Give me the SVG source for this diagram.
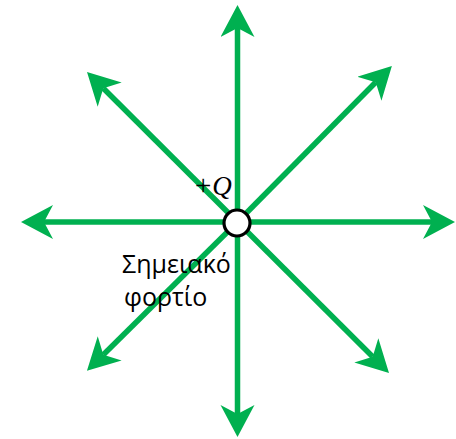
<svg xmlns="http://www.w3.org/2000/svg" width="456" height="439" viewBox="0 0 456 439">
<style>
.fl{stroke:#00B050;stroke-width:5.5;fill:none;marker-end:url(#ah)}
.lbl{font-family:"Open Sans","Noto Sans",sans-serif;font-size:25px;fill:#000}
.q{font-family:"Liberation Serif","DejaVu Serif",serif;font-style:italic;font-size:27px;fill:#000}
.plus{font-style:normal;font-size:29px}
</style>
<defs>
<marker id="ah" markerUnits="userSpaceOnUse" markerWidth="34" markerHeight="36" viewBox="0 0 34 36" refX="9" refY="17" orient="auto">
<path d="M32,17 L0,0 L9,17 L0,34 Z" fill="#00B050"/>
</marker>
</defs>
<rect width="456" height="439" fill="#fff"/>
<g id="connectors">
<line class="fl" x1="237.5" y1="222" x2="237.5" y2="28"/>
<line class="fl" x1="237.5" y1="222" x2="237.5" y2="414"/>
<line class="fl" x1="237.5" y1="222" x2="432" y2="222"/>
<line class="fl" x1="237.5" y1="222" x2="44" y2="222"/>
<line class="fl" x1="237.5" y1="222" x2="375.7" y2="82.3"/>
<line class="fl" x1="237.5" y1="222" x2="103.3" y2="88.3"/>
<line class="fl" x1="237.5" y1="222" x2="103.3" y2="354.7"/>
<line class="fl" x1="237.5" y1="222" x2="372.7" y2="356.7"/>
</g>
<g id="charge">
<circle cx="237" cy="223" r="13" fill="#fff" stroke="#000" stroke-width="3.2"/>
<text class="q" x="195" y="195"><tspan class="plus">+</tspan><tspan dx="1">Q</tspan></text>
</g>
<g id="label">
<text class="lbl" x="122" y="273">Σημειακό</text>
<text class="lbl" x="124" y="306">φορτίο</text>
</g>
</svg>
